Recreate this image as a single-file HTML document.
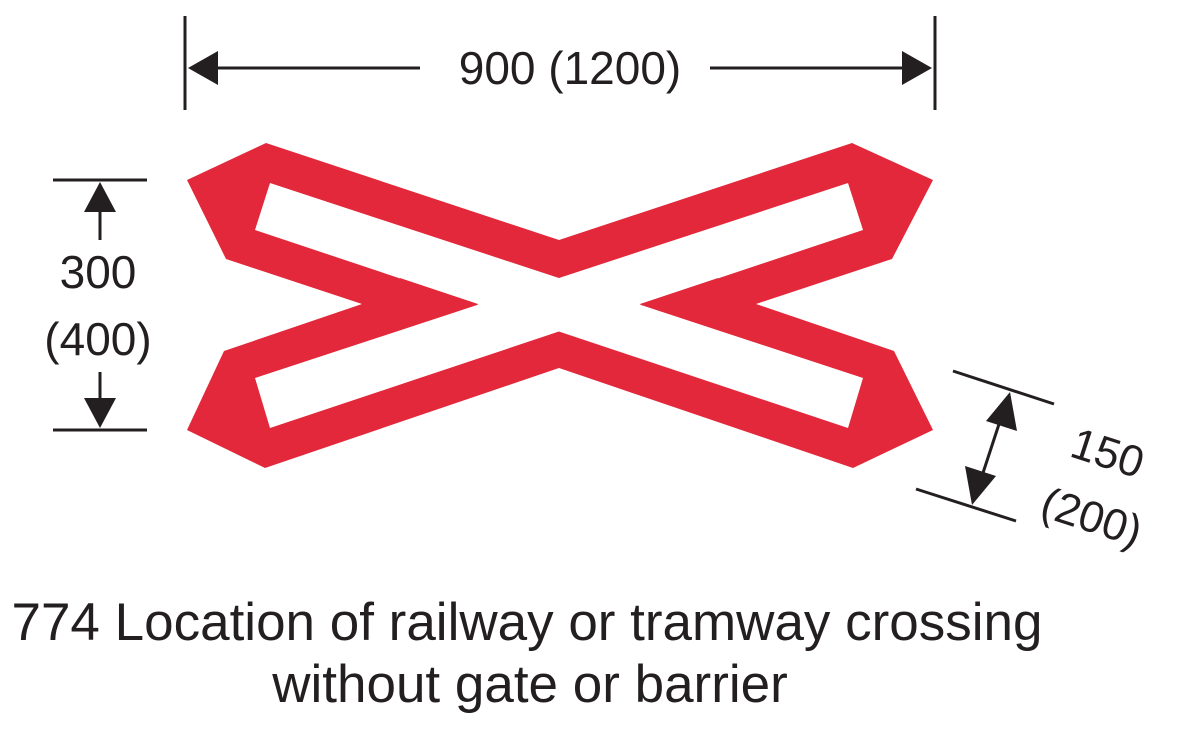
<!DOCTYPE html>
<html><head><meta charset="utf-8"><style>
html,body{margin:0;padding:0;background:#fff;}
svg{display:block;}
text{font-family:"Liberation Sans",sans-serif;fill:#231f20;}
</style></head><body>
<svg width="1200" height="736" viewBox="0 0 1200 736" xmlns="http://www.w3.org/2000/svg">
<polygon fill="#e2283a" points="266,143 559,240 852,143 933,180 892,259 756,304 894,351 933,430 853,468 559,368 265,468 187,430 224,351 362,304 226,259 187,180"/>
<polygon fill="#fff" points="270,183 863,378 848,428 255,230"/>
<polygon fill="#fff" points="255,378 848,183 863,230 270,428"/>
<polygon fill="#e2283a" points="400,278 478,304 400,330"/>
<polygon fill="#e2283a" points="718,278 640,304 718,330"/>
<g stroke="#231f20" stroke-width="3" fill="none">
<line x1="185" y1="16" x2="185" y2="110"/>
<line x1="935" y1="16" x2="935" y2="110"/>
<line x1="210" y1="68" x2="420" y2="68"/>
<line x1="710" y1="68" x2="905" y2="68"/>
<line x1="53" y1="180" x2="147" y2="180"/>
<line x1="53" y1="430" x2="147" y2="430"/>
<line x1="100" y1="205" x2="100" y2="240"/>
<line x1="100" y1="372" x2="100" y2="405"/>
<line x1="953" y1="371" x2="1054" y2="404"/>
<line x1="916" y1="489" x2="1016" y2="521"/>
<line x1="1002" y1="415" x2="980" y2="482"/>
</g>
<g fill="#231f20">
<polygon points="188,68 218,51 218,85"/>
<polygon points="932,68 902,51 902,85"/>
<polygon points="100,182 84,212 116,212"/>
<polygon points="100,428 84,398 116,398"/>
<polygon points="1010,392 986,421 1017,431"/>
<polygon points="972,505 965,466 996,476"/>
</g>
<text x="570" y="84" font-size="46" text-anchor="middle">900 (1200)</text>
<text x="98" y="288" font-size="46" text-anchor="middle">300</text>
<text x="98" y="355" font-size="46" text-anchor="middle">(400)</text>
<text x="1108" y="468" font-size="44" text-anchor="middle" transform="rotate(18 1108 452)">150</text>
<text x="1092" y="532" font-size="44" text-anchor="middle" transform="rotate(18 1092 516)">(200)</text>
<text x="527" y="640" font-size="53" text-anchor="middle">774 Location of railway or tramway crossing</text>
<text x="530" y="702" font-size="53" text-anchor="middle">without gate or barrier</text>
</svg>
</body></html>
